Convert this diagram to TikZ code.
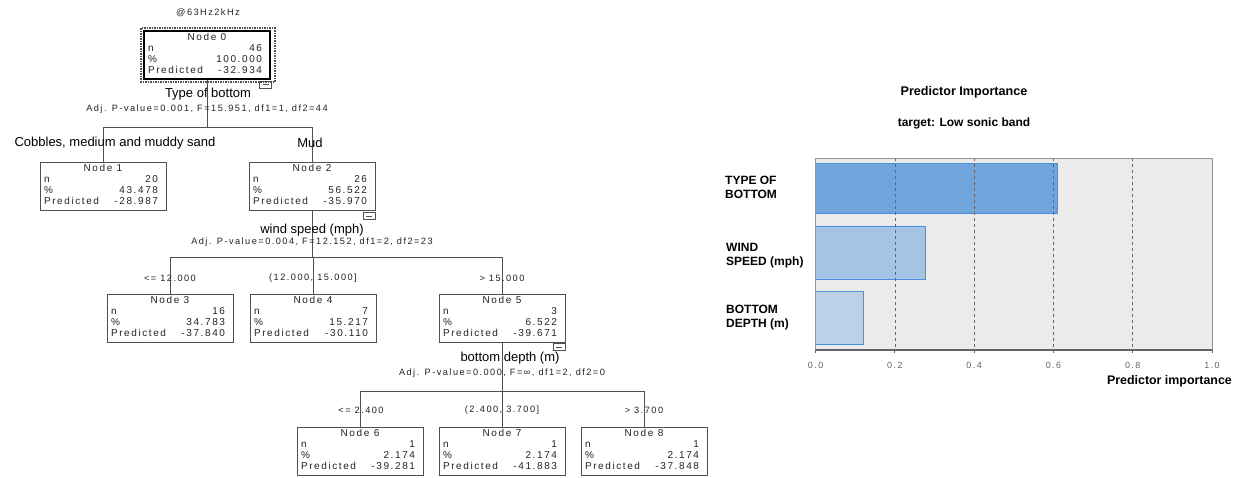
\documentclass[tikz,border=0pt]{standalone}
\usepackage{fontspec}
\setmainfont{Liberation Sans}
\newfontfamily\spssfont{Liberation Sans}[LetterSpace=16]

\definecolor{boxgray}{RGB}{80,80,80}
\definecolor{textgray}{RGB}{35,35,35}
\definecolor{chartbg}{RGB}{235,235,235}
\definecolor{framegray}{RGB}{150,150,150}
\definecolor{gridgray}{RGB}{100,100,100}
\definecolor{barline}{RGB}{74,144,226}
\definecolor{barA}{RGB}{111,165,219}
\definecolor{barB}{RGB}{165,195,227}
\definecolor{barC}{RGB}{188,208,231}

% contents of one tree node
\newcommand{\nodestats}[4]{%
	\spssfont\fontsize{10}{10.8}\selectfont
	\begin{tabular*}{118pt}{@{}l@{\extracolsep{\fill}}r@{\hspace{4pt}}}
		\multicolumn{2}{@{}c@{}}{Node #1}\\
		n & #2\\
		\% & #3\\
		Predicted & #4
	\end{tabular*}}

\begin{document}
\begin{tikzpicture}[
	x=1pt, y=-1pt,
	treebox/.style={ draw=boxgray, line width=0.8pt, minimum width=126pt, minimum height=48pt, inner xsep=4pt, inner ysep=0pt, text=textgray },
	rootbox/.style={ draw=black, line width=1.6pt },
	collapse/.style={ draw=boxgray, line width=0.6pt, minimum width=12pt, minimum height=7pt, inner sep=0pt, anchor=north east, text=boxgray },
	link/.style={ draw=boxgray, line width=0.8pt },
	splitvar/.style={ font=\fontsize{13}{15}\selectfont, text=black, inner sep=0pt },
	splitstat/.style={ font=\spssfont\fontsize{9.2}{10}\selectfont, text=textgray, inner sep=0pt },
	catlabel/.style={ font=\bfseries\fontsize{12}{14}\selectfont, align=left, anchor=west, inner sep=0pt },
	ticklabel/.style={ font=\spssfont\fontsize{9}{10}\selectfont, text=gridgray, inner sep=0pt },
	bar/.style={ draw=barline, line width=0.9pt }
]
\useasboundingbox (0,0) rectangle (1238,477);
\fill[white] (0,0) rectangle (1238,477);

% decision tree
\node at (208,13) (treetitle) [splitstat] {@63Hz2kHz};

% level 0
\node at (207,55) (node0) [treebox,rootbox] {\nodestats{0}{46}{100.000}{-32.934}};
\draw[densely dotted, line width=1.5pt, boxgray] ([shift={(-2pt,2pt)}]node0.north west) rectangle ([shift={(4pt,-2pt)}]node0.south east);
\node at ([xshift=1pt,yshift=-1pt]node0.south east) (minus0) [collapse] {\rule{6pt}{0.6pt}};
\coordinate (split0) at (207,127);
\draw[link] (node0.south) -- (split0);

% level 1
\node at (103,186) (node1) [treebox] {\nodestats{1}{20}{43.478}{-28.987}};
\node at (312,186) (node2) [treebox] {\nodestats{2}{26}{56.522}{-35.970}};
\node at ([yshift=-2pt]node2.south east) (minus2) [collapse] {\rule{6pt}{0.6pt}};
\foreach \p in {node1,node2} \draw[link] (split0) -| (\p.north);
\coordinate (split1) at (312,257);
\draw[link] (node2.south) -- (split1);

% level 2
\node at (170,318) (node3) [treebox] {\nodestats{3}{16}{34.783}{-37.840}};
\node at (313,318) (node4) [treebox] {\nodestats{4}{7}{15.217}{-30.110}};
\node at (502,318) (node5) [treebox] {\nodestats{5}{3}{6.522}{-39.671}};
\node at ([yshift=-1pt]node5.south east) (minus5) [collapse] {\rule{6pt}{0.6pt}};
\foreach \p in {node3,node4,node5} \draw[link] (split1) -| (\p.north);
\coordinate (split2) at (502,391);
\draw[link] (node5.south) -- (split2);

% level 3
\node at (360,451) (node6) [treebox] {\nodestats{6}{1}{2.174}{-39.281}};
\node at (502,451) (node7) [treebox] {\nodestats{7}{1}{2.174}{-41.883}};
\node at (644,451) (node8) [treebox] {\nodestats{8}{1}{2.174}{-37.848}};
\foreach \p in {node6,node7,node8} \draw[link] (split2) -| (\p.north);

% split variables and categories
\node at (208,94) (var0) [splitvar] {Type of bottom};
\node at (207,109) (stat0) [splitstat] {Adj. P-value=0.001, F=15.951, df1=1, df2=44};
\node at (115,143) (cat1) [splitvar] {Cobbles, medium and muddy sand};
\node at (310,143) (cat2) [splitvar] {Mud};

\node at (312,230) (var1) [splitvar] {wind speed (mph)};
\node at (312,242) (stat1) [splitstat] {Adj. P-value=0.004, F=12.152, df1=2, df2=23};
\node at (170,278) (cat3) [splitstat] {<= 12.000};
\node at (313,278) (cat4) [splitstat] {(12.000, 15.000]};
\node at (502,278) (cat5) [splitstat] {> 15.000};

\node at (510,358) (var2) [splitvar] {bottom depth (m)};
\node at (502,373) (stat2) [splitstat] {Adj. P-value=0.000, F=∞, df1=2, df2=0};
\node at (361,410) (cat6) [splitstat] {<= 2.400};
\node at (502,410) (cat7) [splitstat] {(2.400, 3.700]};
\node at (644,410) (cat8) [splitstat] {> 3.700};

% predictor importance chart
\node at (964,92) (charttitle) [font=\bfseries\fontsize{12.6}{15}\selectfont] {Predictor Importance};
\node at (964,123) (chartsub) [font=\bfseries\fontsize{12}{14}\selectfont] {target: Low sonic band};

\begin{scope}[xshift=815.6pt, x=396.4pt]
	\fill[chartbg] (0,158) rectangle (1,350);
	\draw[bar, fill=barA] (0,163) rectangle (0.609,213);
	\draw[bar, fill=barB] (0,226) rectangle (0.276,279);
	\draw[bar, fill=barC] (0,291) rectangle (0.120,344);
	\foreach \v in {0.2,0.4,0.6,0.8} \draw[gridgray, dashed, line width=0.6pt] (\v,158) -- (\v,350);
	\draw[framegray, line width=0.9pt] (0,350) -- (0,158) -- (1,158) -- (1,350);
	\draw[gridgray, line width=1.1pt] (0,350) -- (1,350);
	\foreach \v in {0.0,0.2,0.4,0.6,0.8,1.0} {
		\draw[gridgray, line width=0.8pt] (\v,350) -- (\v,353);
		\node at (\v,365) [ticklabel] {\v};
	}
\end{scope}

\node at (725,187) (lab1) [catlabel] {TYPE OF\\BOTTOM};
\node at (726,256) (lab2) [catlabel] {WIND\\SPEED (mph)};
\node at (726,318) (lab3) [catlabel] {BOTTOM\\DEPTH (m)};
\node at (1232,381) (axistitle) [anchor=east, inner sep=0pt, font=\bfseries\fontsize{12.4}{15}\selectfont] {Predictor importance};

\end{tikzpicture}
\end{document}
